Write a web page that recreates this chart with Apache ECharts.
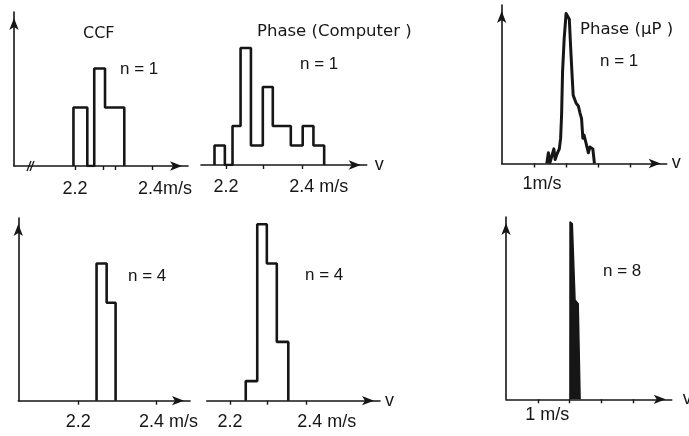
<!DOCTYPE html>
<html>
<head>
<meta charset="utf-8">
<script src="https://cdn.jsdelivr.net/npm/echarts@6/dist/echarts.min.js"></script>
<style>
  html, body { margin: 0; background: #fff; }
  #chart { width: 689px; height: 436px; }
</style>
</head>
<body>
<div id="chart"></div>
<script>
// CCF, n = 1  (bin edges in m/s, counts per bin)
const ccf1Edges = [2.196, 2.232, 2.250, 2.278, 2.328];
const ccf1Counts = [3, 0, 5, 3];
// Phase (Computer), n = 1
const pc1Edges = [2.170, 2.197, 2.217, 2.238, 2.265, 2.296, 2.322, 2.369, 2.400, 2.428, 2.456];
const pc1Counts = [1, 0, 2, 6, 1, 4, 2, 1, 2, 1];
// CCF, n = 4
const ccf4Edges = [2.247, 2.273, 2.296];
const ccf4Counts = [7, 5];
// Phase (Computer), n = 4
const pc4Edges = [2.241, 2.271, 2.296, 2.322, 2.352];
const pc4Counts = [1, 9, 7, 3];
// Phase (uP), n = 1 - traced curve
const up1V = [1.40, 1.45, 1.50, 1.56, 1.62, 1.66, 1.72, 1.79, 1.83, 1.86, 1.89, 1.94, 2.00, 2.04, 2.10,
              2.14, 2.19, 2.22, 2.31, 2.38, 2.43, 2.48, 2.52, 2.56, 2.64, 2.69, 2.74, 2.83, 2.88];
const up1H = [0, 0.55, 0.05, 0.1, 0.75, 0.2, 0.5, 0.75, 1.3, 2.5, 4.7, 6.4, 7.7, 7.75, 7.4,
              6.0, 4.4, 3.5, 3.1, 2.95, 2.6, 2.3, 1.3, 1.45, 0.9, 0.55, 0.85, 0.75, 0];
// Phase (uP), n = 8 - filled spike
const up8V = [2.010, 2.013, 2.085, 2.17, 2.27, 2.33];
const up8H = [0, 9.1, 9.0, 5.1, 4.9, 0];

// ticks and tick labels
const ccf1Ticks = [2.2, 2.2735, 2.304, 2.4];
const pc1Ticks = [2.2, 2.296, 2.4];
const ccf4Ticks = [2.2, 2.4];
const pc4Ticks = [2.2, 2.298, 2.4];
const upTicks = [1, 2, 3, 4];
const speedLabelVals = [2.2, 2.4];
const ccf1Labels = ['2.2', '2.4m/s'];
const speedLabels = ['2.2', '2.4 m/s'];
const upLabelVals = [1];
const up1Labels = ['1m/s'];
const up8Labels = ['1 m/s'];

const titles = ['CCF', 'Phase (Computer )', 'Phase (\u03bcP )'];
const nLabels = ['n = 1', 'n = 1', 'n = 1', 'n = 4', 'n = 4', 'n = 8'];

const FONT = '"Liberation Sans", Arial, sans-serif';
const TITLE_FONT = '"DejaVu Sans", sans-serif';
const INK = '#161616';

function outline(edges, counts) {
  const pts = [[edges[0], 0]];
  counts.forEach((c, i) => {
    pts.push([edges[i], c], [edges[i + 1], c]);
  });
  pts.push([edges[edges.length - 1], 0]);
  return pts;
}

const zip = (a, b) => a.map((v, i) => [v, b[i]]);

const panels = [
  { grid: { left: 14, top: 12, width: 174, height: 154 }, xMin: 2.0416, xMax: 2.4935, yMax: 7.9, showY: true,
    ticks: ccf1Ticks, labVals: speedLabelVals, labTexts: ccf1Labels, margin: 14, pad: 26, name: '', nameGap: 0 },
  { grid: { left: 201, top: 12, width: 165.7, height: 153 }, xMin: 2.1348, xMax: 2.5669, yMax: 7.85, showY: false,
    ticks: pc1Ticks, labVals: speedLabelVals, labTexts: speedLabels, margin: 13, pad: 32, name: 'v', nameGap: 8 },
  { grid: { left: 501.7, top: 5, width: 165, height: 158.5 }, xMin: 0, xMax: 5.124, yMax: 8.13, showY: true,
    ticks: upTicks, labVals: upLabelVals, labTexts: up1Labels, margin: 12, pad: 16, name: 'v', nameGap: 5 },
  { grid: { left: 18.3, top: 218, width: 171.7, height: 182.7 }, xMin: 2.0456, xMax: 2.4875, yMax: 9.32, showY: true,
    ticks: ccf4Ticks, labVals: speedLabelVals, labTexts: speedLabels, margin: 12, pad: 25, name: '', nameGap: 0 },
  { grid: { left: 206.7, top: 218, width: 173.3, height: 182.7 }, xMin: 2.1392, xMax: 2.5911, yMax: 9.32, showY: false,
    ticks: pc4Ticks, labVals: speedLabelVals, labTexts: speedLabels, margin: 12, pad: 40, name: 'v', nameGap: 5 },
  { grid: { left: 506, top: 217, width: 165.7, height: 182.3 }, xMin: 0, xMax: 5.21, yMax: 9.35, showY: true,
    ticks: upTicks, labVals: upLabelVals, labTexts: up8Labels, margin: 7, pad: 19, name: 'v', nameGap: 11 }
];

const axisLine = {
  lineStyle: { color: INK, width: 1.6 },
  symbol: ['none', 'arrow'],
  symbolSize: [7, 12],
  symbolOffset: [0, -6]
};

const grids = panels.map(p => Object.assign({ containLabel: false, outerBoundsMode: 'none' }, p.grid));

const xAxes = panels.map((p, i) => ({
  type: 'value',
  gridIndex: i,
  min: p.xMin,
  max: p.xMax,
  splitLine: { show: false },
  axisLine: axisLine,
  axisTick: { customValues: p.ticks, length: 4, lineStyle: { color: INK, width: 1.4 } },
  axisLabel: {
    customValues: p.labVals,
    margin: p.margin,
    fontSize: 18,
    fontFamily: FONT,
    color: INK,
    formatter: (val) => {
      const idx = p.labVals.findIndex(v => Math.abs(v - val) < 1e-6);
      const t = idx >= 0 ? p.labTexts[idx] : '';
      return t.indexOf('m/s') >= 0 ? '{p| }' + t : t;
    },
    rich: { p: { width: p.pad, fontSize: 18 } }
  },
  name: p.name,
  nameLocation: 'end',
  nameGap: p.nameGap,
  nameTextStyle: { fontSize: 18, fontFamily: FONT, color: INK, verticalAlign: 'middle' }
}));

const yAxes = panels.map((p, i) => ({
  type: 'value',
  gridIndex: i,
  min: 0,
  max: p.yMax,
  show: p.showY,
  splitLine: { show: false },
  axisLine: axisLine,
  axisTick: { show: false },
  axisLabel: { show: false }
}));

const histStyle = { color: INK, width: 2.6 };

const series = [
  { type: 'line', xAxisIndex: 0, yAxisIndex: 0, data: outline(ccf1Edges, ccf1Counts), symbol: 'none', lineStyle: histStyle },
  { type: 'line', xAxisIndex: 1, yAxisIndex: 1, data: outline(pc1Edges, pc1Counts), symbol: 'none', lineStyle: histStyle },
  { type: 'line', xAxisIndex: 2, yAxisIndex: 2, data: zip(up1V, up1H), symbol: 'none',
    lineStyle: { color: INK, width: 3, join: 'round' } },
  { type: 'line', xAxisIndex: 3, yAxisIndex: 3, data: outline(ccf4Edges, ccf4Counts), symbol: 'none', lineStyle: histStyle },
  { type: 'line', xAxisIndex: 4, yAxisIndex: 4, data: outline(pc4Edges, pc4Counts), symbol: 'none', lineStyle: histStyle },
  { type: 'line', xAxisIndex: 5, yAxisIndex: 5, data: zip(up8V, up8H), symbol: 'none',
    lineStyle: { color: INK, width: 1.5 }, areaStyle: { color: INK, opacity: 1 } }
];

const textItem = (txt, x, y, size, family) => ({
  type: 'text', x: x, y: y,
  style: { text: txt, fontSize: size, fontFamily: family, fill: INK, textAlign: 'left', textVerticalAlign: 'middle' }
});

const graphic = [
  textItem(titles[0], 83, 34, 16, TITLE_FONT),
  textItem(titles[1], 257, 32, 16.5, TITLE_FONT),
  textItem(titles[2], 580, 30, 16.5, TITLE_FONT),
  textItem(nLabels[0], 120, 69, 17, FONT),
  textItem(nLabels[1], 300, 64, 17, FONT),
  textItem(nLabels[2], 600, 61, 17, FONT),
  textItem(nLabels[3], 128, 276, 17, FONT),
  textItem(nLabels[4], 305, 275, 17, FONT),
  textItem(nLabels[5], 603, 271, 17, FONT),
  // axis break mark on the first panel
  { type: 'line', shape: { x1: 27, y1: 171, x2: 31, y2: 161 }, style: { stroke: INK, lineWidth: 1.3 } },
  { type: 'line', shape: { x1: 30, y1: 171, x2: 34, y2: 161 }, style: { stroke: INK, lineWidth: 1.3 } }
];

const chart = echarts.init(document.getElementById('chart'));
chart.setOption({
  animation: false,
  backgroundColor: '#fff',
  grid: grids,
  xAxis: xAxes,
  yAxis: yAxes,
  series: series,
  graphic: graphic
});
</script>
</body>
</html>
